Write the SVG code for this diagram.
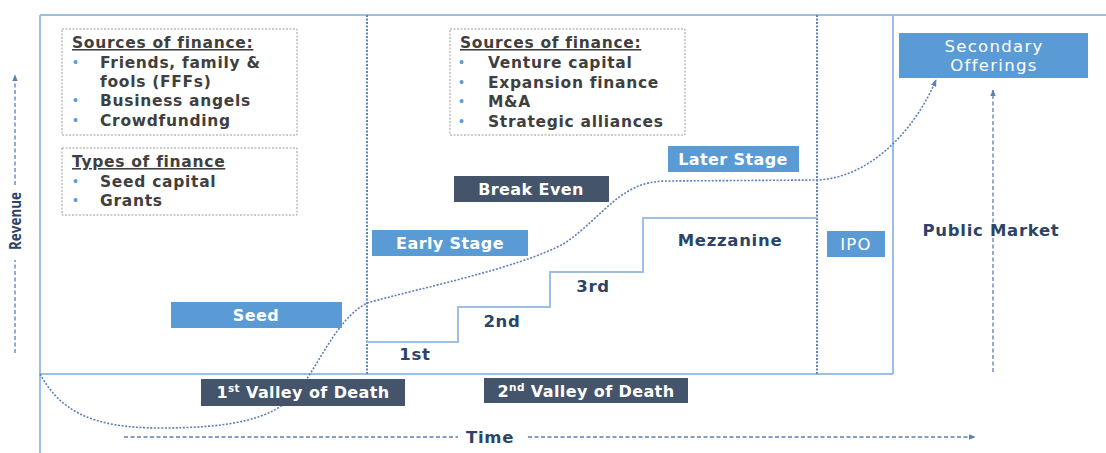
<svg xmlns="http://www.w3.org/2000/svg" width="1106" height="453" viewBox="0 0 1106 453">
<defs>
<style>
.frame{fill:none;stroke:#9dbfe4;stroke-width:2}
.vdot{fill:none;stroke:#5b86c4;stroke-width:2;stroke-dasharray:2 1.5}
.curve{fill:none;stroke:#5b7fb8;stroke-width:1.6;stroke-dasharray:2 1.6}
.axis{fill:none;stroke:#5b7fb8;stroke-width:1.3;stroke-dasharray:4 2.5}
.src{fill:#fff;stroke:#9a9a9a;stroke-width:1;stroke-dasharray:2 1.5}
.blue{fill:#5b9bd5}
.dark{fill:#44546a}
.t{font-family:"DejaVu Sans","Open Sans",sans-serif;font-weight:bold;font-size:15.5px;letter-spacing:0.7px;fill:#3f3f3f}
.u{text-decoration:underline}
.bul{font-family:"Liberation Sans",sans-serif;font-size:14px;fill:#5b9bd5}
.w{font-family:"DejaVu Sans","Open Sans",sans-serif;font-weight:bold;font-size:16px;letter-spacing:0.4px;fill:#ffffff;text-anchor:middle}
.wr{font-family:"DejaVu Sans","Open Sans",sans-serif;font-size:16.5px;letter-spacing:1.3px;fill:#ffffff;text-anchor:middle}
.n{font-family:"DejaVu Sans","Open Sans",sans-serif;font-weight:bold;font-size:16.5px;letter-spacing:0.7px;fill:#2c4466;text-anchor:middle}
.rev{font-family:"Open Sans","DejaVu Sans",sans-serif;font-weight:bold;font-size:16px;fill:#2c4466;text-anchor:middle}
</style>
<marker id="ah" viewBox="0 0 10 10" refX="9" refY="5" markerWidth="7" markerHeight="7" orient="auto-start-reverse" markerUnits="userSpaceOnUse">
<path d="M0,1 L10,5 L0,9 z" fill="#5b7fb8"/>
</marker>
</defs>

<g id="frame">
<line class="frame" x1="40" y1="15" x2="1106" y2="15"/>
<line class="frame" x1="40" y1="15" x2="40" y2="453"/>
<line class="frame" x1="40" y1="374" x2="893" y2="374"/>
<line class="frame" x1="893" y1="15" x2="893" y2="374"/>
<line class="vdot" x1="367" y1="15" x2="367" y2="374"/>
<line class="vdot" x1="817" y1="15" x2="817" y2="374"/>
<polyline class="frame" points="367,342 458,342 458,307 550,307 550,272 643,272 643,218 817,218"/>
</g>

<g id="connectors">
<path class="curve" d="M40,374 C60,410 90,428 160,428 C230,428 270,420 295,395 C320,365 335,320 367,303 C420,288 520,268 565,243 C605,215 620,182 665,181 L817,180 C870,178 915,130 936,80" marker-end="url(#ah)"/>
<line class="axis" x1="993" y1="372" x2="993" y2="90" marker-end="url(#ah)"/>
<line class="axis" x1="15" y1="353" x2="15" y2="260"/>
<line class="axis" x1="15" y1="185" x2="15" y2="75" marker-end="url(#ah)"/>
<line class="axis" x1="124" y1="437" x2="458" y2="437"/>
<line class="axis" x1="528" y1="437" x2="975" y2="437" marker-end="url(#ah)"/>
</g>

<g id="sources-early">
<rect class="src" x="62" y="29" width="235" height="106"/>
<text class="t u" x="72" y="48">Sources of finance:</text>
<text class="bul" x="73" y="67">•</text><text class="t" x="100" y="68">Friends, family &amp;</text>
<text class="t" x="100" y="87">fools (FFFs)</text>
<text class="bul" x="73" y="105">•</text><text class="t" x="100" y="106">Business angels</text>
<text class="bul" x="73" y="125">•</text><text class="t" x="100" y="126">Crowdfunding</text>
</g>

<g id="types">
<rect class="src" x="62" y="148" width="235" height="67"/>
<text class="t u" x="72" y="167">Types of finance</text>
<text class="bul" x="73" y="186">•</text><text class="t" x="100" y="187">Seed capital</text>
<text class="bul" x="73" y="205">•</text><text class="t" x="100" y="206">Grants</text>
</g>

<g id="sources-later">
<rect class="src" x="450" y="29" width="235" height="106"/>
<text class="t u" x="460" y="48">Sources of finance:</text>
<text class="bul" x="459" y="67">•</text><text class="t" x="488" y="68">Venture capital</text>
<text class="bul" x="459" y="87">•</text><text class="t" x="488" y="88">Expansion finance</text>
<text class="bul" x="459" y="106">•</text><text class="t" x="488" y="107">M&amp;A</text>
<text class="bul" x="459" y="126">•</text><text class="t" x="488" y="127">Strategic alliances</text>
</g>

<g id="secondary">
<rect class="blue" x="899" y="33" width="189" height="45"/>
<text class="wr" x="994" y="52">Secondary</text>
<text class="wr" x="994" y="71">Offerings</text>
</g>

<g id="later-stage">
<rect class="blue" x="668" y="146" width="131" height="26"/>
<text class="w" x="733" y="165">Later Stage</text>
</g>

<g id="break-even">
<rect class="dark" x="454" y="176" width="155" height="26"/>
<text class="w" x="531" y="195">Break Even</text>
</g>

<g id="early-stage">
<rect class="blue" x="372" y="230" width="156" height="26"/>
<text class="w" x="450" y="249">Early Stage</text>
</g>

<g id="seed">
<rect class="blue" x="171" y="302" width="171" height="26"/>
<text class="w" x="256" y="321">Seed</text>
</g>

<g id="ipo">
<rect class="blue" x="827" y="231" width="58" height="26"/>
<text class="wr" x="856" y="250">IPO</text>
</g>

<g id="valley1">
<rect class="dark" x="201" y="379" width="204" height="27"/>
<text class="w" x="303" y="398">1<tspan font-size="10.5" dy="-6">st</tspan><tspan dy="6"> Valley of Death</tspan></text>
</g>

<g id="valley2">
<rect class="dark" x="484" y="378" width="204" height="25"/>
<text class="w" x="586" y="397">2<tspan font-size="10.5" dy="-6">nd</tspan><tspan dy="6"> Valley of Death</tspan></text>
</g>

<g id="labels">
<text class="n" x="415" y="360">1st</text>
<text class="n" x="502" y="327">2nd</text>
<text class="n" x="593" y="292">3rd</text>
<text class="n" x="730" y="246">Mezzanine</text>
<text class="n" x="991" y="236">Public Market</text>
<text class="n" x="490" y="443">Time</text>
<text class="rev" x="0" y="0" textLength="58" lengthAdjust="spacingAndGlyphs" transform="translate(21,221) rotate(-90)">Revenue</text>
</g>
</svg>
